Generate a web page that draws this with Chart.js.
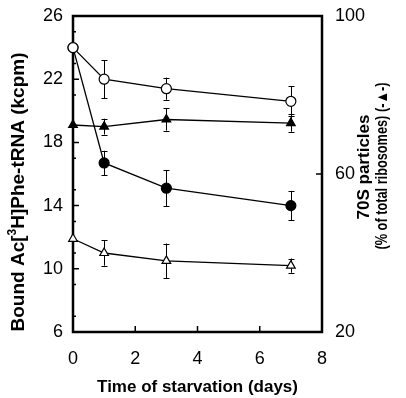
<!DOCTYPE html>
<html><head><meta charset="utf-8">
<script src="https://cdn.jsdelivr.net/npm/chart.js@4/dist/chart.umd.min.js"></script>
<style>html,body{margin:0;padding:0;background:#fff;}#wrap{width:406px;height:398px;}</style>
</head><body><div id="wrap"><canvas id="c" width="406" height="398"></canvas></div>
<script>
// ---- data ----
const days = [0, 1, 3, 7];
const openCircle = [24.0, 22.0, 21.4, 20.6];
const openCircleErr = [0, 1.2, 0.7, 0.95];
const filledCircle = [24.0, 16.7, 15.1, 14.0];
const filledCircleErr = [0, 0.77, 1.15, 0.93];
const openTriangle = [11.9, 11.0, 10.5, 10.2];
const openTriangleErr = [0, 0.8, 1.1, 0.45];
const particles70S = [72.4, 72.0, 73.8, 72.9];
const particles70SErr = [0, 2.0, 2.8, 2.2];
const xTicks = [0, 2, 4, 6, 8];
const leftTicks = [6, 10, 14, 18, 22, 26];
const rightTicks = [20, 60, 100];
const xTitle = 'Time of starvation (days)';
const leftTitleParts = ['Bound Ac[', '3', 'H]Phe-tRNA (kcpm)'];
const rightTitle1 = '70S particles';
const rightTitle2 = '(% of total ribosomes) (-\u25B2-)';

const FONT = '"Liberation Sans", Arial, Helvetica, sans-serif';
const pts = (ys) => days.map((d, i) => ({x: d, y: ys[i]}));

function ds(label, ys, errs, axis, style, filled, radius, order) {
  return {
    label, data: pts(ys), errs, yAxisID: axis, order, clip: false,
    showLine: true, tension: 0, borderColor: '#000', borderWidth: 1.3,
    pointStyle: style, pointRadius: radius, pointHoverRadius: radius,
    pointBackgroundColor: filled ? '#000' : '#fff', pointBorderColor: '#000', pointBorderWidth: 1.2,
    fill: false
  };
}

const errorBars = {
  id: 'errorBars',
  beforeDatasetsDraw(chart) {
    const ctx = chart.ctx, xs = chart.scales.x;
    ctx.save(); ctx.strokeStyle = '#000'; ctx.lineWidth = 1;
    chart.data.datasets.forEach(d => {
      const ys = chart.scales[d.yAxisID];
      d.data.forEach((p, i) => {
        const e = d.errs[i]; if (!e) return;
        const x = Math.round(xs.getPixelForValue(p.x)) + 0.5;
        const y1 = ys.getPixelForValue(p.y + e), y2 = ys.getPixelForValue(p.y - e);
        ctx.beginPath();
        ctx.moveTo(x, y1); ctx.lineTo(x, y2);
        ctx.moveTo(x - 3, Math.round(y1) + 0.5); ctx.lineTo(x + 3, Math.round(y1) + 0.5);
        ctx.moveTo(x - 3, Math.round(y2) + 0.5); ctx.lineTo(x + 3, Math.round(y2) + 0.5);
        ctx.stroke();
      });
    });
    ctx.restore();
  }
};

function fitText(ctx, text, font, len, cx, cy) {
  ctx.save();
  ctx.font = font;
  const w = ctx.measureText(text).width;
  ctx.translate(cx, cy);
  ctx.rotate(-Math.PI / 2);
  ctx.scale(len / w, 1);
  ctx.textAlign = 'center';
  ctx.fillText(text, 0, 0);
  ctx.restore();
}

const frame = {
  id: 'frame',
  beforeDatasetsDraw(chart) {
    const ctx = chart.ctx, a = chart.chartArea;
    const xs = chart.scales.x, yl = chart.scales.y, yr = chart.scales.y2;
    ctx.save(); ctx.strokeStyle = '#000';
    ctx.lineWidth = 2.5;
    ctx.strokeRect(a.left, a.top, a.right - a.left, a.bottom - a.top);
    ctx.lineWidth = 1.5;
    ctx.beginPath();
    xTicks.forEach(v => { const x = xs.getPixelForValue(v); ctx.moveTo(x, a.bottom); ctx.lineTo(x, a.bottom - 6); });
    leftTicks.forEach(v => { const y = yl.getPixelForValue(v); ctx.moveTo(a.left, y); ctx.lineTo(a.left + 6, y); });
    for (let v = 7; v < 26; v += 2) { const y = yl.getPixelForValue(v); ctx.moveTo(a.left, y); ctx.lineTo(a.left + 3, y); }
    rightTicks.forEach(v => { const y = yr.getPixelForValue(v); ctx.moveTo(a.right, y); ctx.lineTo(a.right - 6, y); });
    ctx.stroke();
    ctx.restore();
  },
  afterDraw(chart) {
    const ctx = chart.ctx, a = chart.chartArea;
    ctx.save();
    ctx.fillStyle = '#000';
    ctx.textBaseline = 'middle';
    ctx.textAlign = 'center';
    ctx.font = 'bold 17px ' + FONT;
    ctx.fillText(xTitle, (a.left + a.right) / 2, 387);

    // left title, rotated, with superscript
    ctx.save();
    ctx.translate(19, 192);
    ctx.rotate(-Math.PI / 2);
    const big = 'bold 19px ' + FONT, small = 'bold 12px ' + FONT;
    ctx.font = big; const w0 = ctx.measureText(leftTitleParts[0]).width, w2 = ctx.measureText(leftTitleParts[2]).width;
    ctx.font = small; const w1 = ctx.measureText(leftTitleParts[1]).width;
    let sx = -(w0 + w1 + w2) / 2;
    ctx.textAlign = 'left';
    ctx.font = big; ctx.fillText(leftTitleParts[0], sx, 0); sx += w0;
    ctx.font = small; ctx.fillText(leftTitleParts[1], sx, -6); sx += w1;
    ctx.font = big; ctx.fillText(leftTitleParts[2], sx, 0);
    ctx.restore();

    // right title, two lines, rotated
    fitText(ctx, rightTitle1, 'bold 17px ' + FONT, 105, 364, 167);
    fitText(ctx, rightTitle2, 'bold 16px ' + FONT, 167, 383, 166);
    ctx.restore();
  }
};

const tickFont = {family: FONT, size: 18};
const noPad = s => { s.paddingTop = 0; s.paddingBottom = 0; };
new Chart(document.getElementById('c'), {
  type: 'line',
  data: {
    datasets: [
      ds('open circle', openCircle, openCircleErr, 'y', 'circle', false, 5, 1),
      ds('70S particles', particles70S, particles70SErr, 'y2', 'triangle', true, 5, 2),
      ds('open triangle', openTriangle, openTriangleErr, 'y', 'triangle', false, 5, 3),
      ds('filled circle', filledCircle, filledCircleErr, 'y', 'circle', true, 5, 4)
    ]
  },
  options: {
    responsive: false, animation: false, devicePixelRatio: 1,
    layout: {padding: {top: 16, left: 0, right: 0, bottom: 0}},
    plugins: {legend: {display: false}, tooltip: {enabled: false}},
    scales: {
      x: {
        type: 'linear', min: 0, max: 8,
        afterBuildTicks: s => { s.ticks = xTicks.map(v => ({value: v})); },
        afterFit: s => { s.height = 66; s.paddingLeft = 0; s.paddingRight = 0; },
        grid: {display: false, drawTicks: false}, border: {display: false},
        ticks: {font: tickFont, color: '#000', padding: 16, maxRotation: 0}
      },
      y: {
        type: 'linear', position: 'left', min: 6, max: 26,
        afterBuildTicks: s => { s.ticks = leftTicks.map(v => ({value: v})); },
        afterFit: s => { s.width = 73; noPad(s); },
        grid: {display: false, drawTicks: false}, border: {display: false},
        ticks: {font: tickFont, color: '#000', padding: 10}
      },
      y2: {
        type: 'linear', position: 'right', min: 20, max: 100,
        afterBuildTicks: s => { s.ticks = rightTicks.map(v => ({value: v})); },
        afterFit: s => { s.width = 84; noPad(s); },
        grid: {display: false, drawTicks: false}, border: {display: false},
        ticks: {font: tickFont, color: '#000', padding: 13}
      }
    }
  },
  plugins: [errorBars, frame]
});
</script>
</body></html>
